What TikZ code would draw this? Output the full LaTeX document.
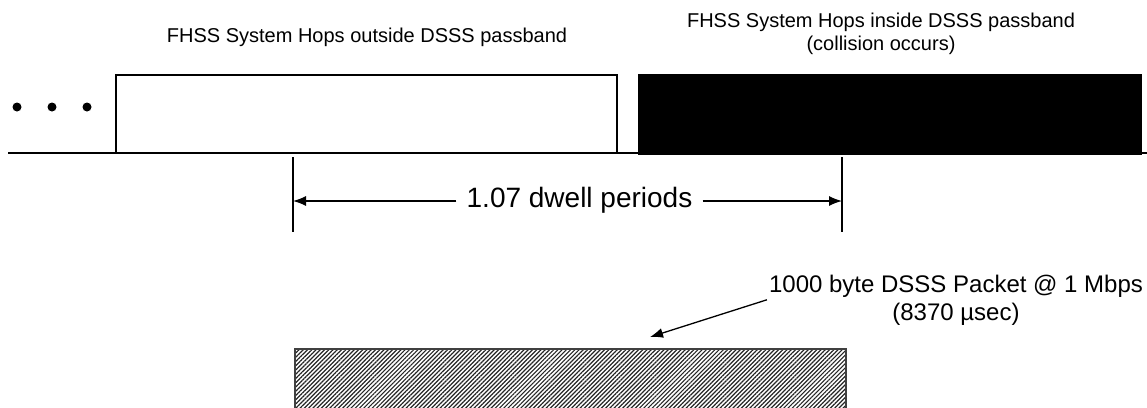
\documentclass[tikz,border=0pt]{standalone}
\usepackage{fontspec}
\setmainfont{Liberation Sans}
\usetikzlibrary{arrows.meta,patterns.meta}

\begin{document}
\begin{tikzpicture}[x=1pt, y=-1pt,
    hop/.style={draw=black, line width=1.6pt, minimum width=501pt, minimum height=78pt, inner sep=0pt},
    blip/.style={circle, fill=black, inner sep=0pt, minimum size=9pt},
    tick/.style={line width=1.3pt},
    dim/.style={-{Latex[length=13pt,width=10pt]}, line width=1.3pt},
    note/.style={font=\fontsize{20}{23}\selectfont, align=center, inner sep=0pt},
]
\useasboundingbox (0,0) rectangle (1147,407);

% time axis with the hops
\coordinate (axis start) at (8,153);
\coordinate (axis end) at (1147,153);
\draw[line width=1.6pt] (axis start) -- (axis end);

\node[blip] (dot1) at (17,107) {};
\node[blip] (dot2) at (52,107) {};
\node[blip] (dot3) at (87,107) {};

\node[hop, fill=white] (outside) at (366.5,114) {};
\node[hop, fill=black, minimum width=502pt, minimum height=79pt] (inside) at (890,114.5) {};

\node[note, anchor=base] (outside label) at (367,42) {FHSS System Hops outside DSSS passband};
\node[note, anchor=base] (inside label) at (881,50) {FHSS System Hops inside DSSS passband\\(collision occurs)};

% dwell span
\coordinate (tick1 top) at (293,157);
\coordinate (tick1 bot) at (293,232);
\coordinate (tick2 top) at (842,157);
\coordinate (tick2 bot) at (842,232);
\draw[tick] (tick1 top) -- (tick1 bot);
\draw[tick] (tick2 top) -- (tick2 bot);

\coordinate (span left) at (293,201);
\coordinate (span right) at (842,201);
\node[font=\fontsize{28}{32}\selectfont, inner xsep=10pt, inner ysep=0pt, anchor=base] (dwell) at (579.5,207) {1.07 dwell periods};
\draw[dim] (dwell.west |- span left) -- (span left);
\draw[dim] (dwell.east |- span right) -- (span right);

% DSSS packet
\node[draw=black!75, line width=2pt, pattern={Lines[angle=45,distance=3pt,line width=1.2pt]}, pattern color=black!85,
      minimum width=551pt, minimum height=90pt, inner sep=0pt, anchor=north west] (packet) at (294,348) {};
\node[font=\fontsize{24}{28}\selectfont, align=center, anchor=base, inner sep=2pt] (packet label) at (956,320) {1000 byte DSSS Packet @ 1 Mbps\\(8370 µsec)};
\coordinate (packet tip) at (650,337);
\draw[dim] (packet label.west) -- (packet tip);

\end{tikzpicture}
\end{document}
